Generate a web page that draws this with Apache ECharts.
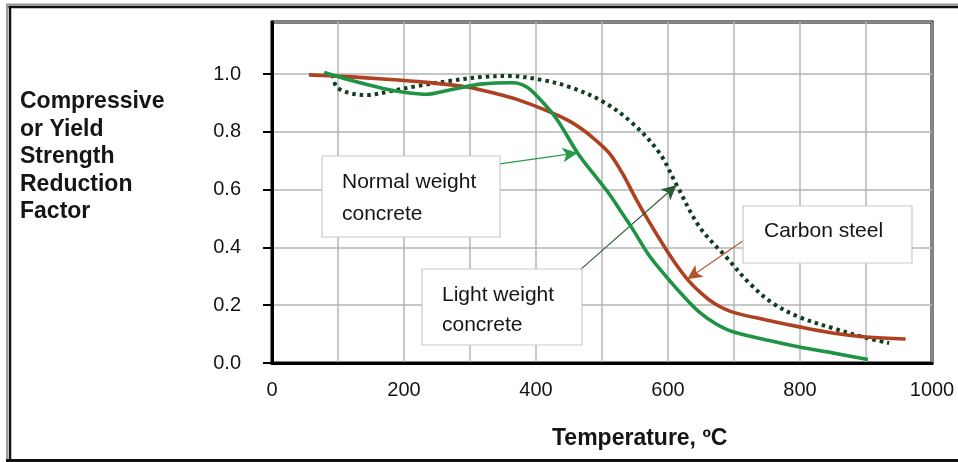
<!DOCTYPE html>
<html>
<head>
<meta charset="utf-8">
<script src="https://cdn.jsdelivr.net/npm/echarts@6/dist/echarts.min.js"></script>
<style>
  html, body { margin: 0; padding: 0; background: #fff; }
  #chart { width: 958px; height: 462px; }
</style>
</head>
<body>
<div id="chart"></div>
<script>
// Strength reduction factors versus temperature (°C)
const steelTemp   = [56, 120, 168, 230, 295, 340, 370, 420, 450, 471, 491, 511, 531, 551, 571, 591, 611, 631, 651, 671, 698, 749, 799, 849, 900, 960];
const steelFactor = [0.997, 0.99, 0.983, 0.972, 0.955, 0.932, 0.913, 0.87, 0.838, 0.807, 0.77, 0.726, 0.656, 0.57, 0.49, 0.415, 0.345, 0.285, 0.24, 0.205, 0.176, 0.149, 0.125, 0.104, 0.09, 0.083];

const normalTemp   = [79, 118, 168, 200, 234, 269, 319, 365, 386, 405, 431, 463, 487, 511, 530, 546, 572, 597, 622, 648, 673, 698, 749, 799, 849, 903];
const normalFactor = [1.005, 0.979, 0.95, 0.937, 0.93, 0.945, 0.966, 0.97, 0.955, 0.915, 0.845, 0.727, 0.655, 0.585, 0.52, 0.465, 0.37, 0.3, 0.235, 0.175, 0.135, 0.108, 0.08, 0.055, 0.035, 0.012];

const lightTemp   = [92, 98, 118, 143, 178, 219, 269, 319, 360, 410, 451, 501, 546, 587, 613, 648, 688, 723, 758, 799, 849, 900, 935];
const lightFactor = [0.997, 0.955, 0.934, 0.927, 0.94, 0.958, 0.976, 0.99, 0.993, 0.979, 0.955, 0.905, 0.83, 0.727, 0.616, 0.47, 0.367, 0.277, 0.208, 0.159, 0.121, 0.087, 0.069];

const xTicks = [0, 200, 400, 600, 800, 1000];
const yTicks = [0.0, 0.2, 0.4, 0.6, 0.8, 1.0];

// Callout arrows: [fromTemp, fromFactor, toTemp, toFactor]
const normalArrow = [345, 0.689, 463, 0.727];
const lightArrow  = [467, 0.322, 613, 0.616];
const steelArrow  = [731, 0.45, 629, 0.29];

const pairs = (xs, ys) => xs.map((x, i) => [x, ys[i]]);

const STEEL = '#ad4120';
const NORMAL = '#1e9343';
const LIGHT = '#123d22';
const TXT = '#151515';
const FONT = '"Liberation Sans", Arial, sans-serif';

function arrowLine(a, color, width) {
  return {
    silent: true,
    animation: false,
    symbol: ['none', 'arrow'],
    symbolSize: [11, 15],
    label: { show: false },
    lineStyle: { color: color, width: width, type: 'solid' },
    emphasis: { disabled: true },
    data: [[{ coord: [a[0], a[1]] }, { coord: [a[2], a[3]] }]]
  };
}

function calloutBox(x, y, w, h, text, tx, ty, lh) {
  return [
    { type: 'rect', z: 50, shape: { x: x, y: y, width: w, height: h },
      style: { fill: '#ffffff', stroke: '#c9c9c9', lineWidth: 1.2 } },
    { type: 'text', z: 51, x: tx, y: ty,
      style: { text: text, font: '21px ' + FONT, fill: TXT, lineHeight: lh, verticalAlign: 'top' } }
  ];
}

const chart = echarts.init(document.getElementById('chart'), null, { renderer: 'canvas' });

chart.setOption({
  animation: false,
  backgroundColor: '#fff',
  grid: {
    left: 272, right: 26, top: 22, bottom: 99,
    show: true, borderColor: '#000', borderWidth: 3, backgroundColor: '#fff'
  },
  xAxis: {
    type: 'value',
    min: 0, max: 1000, interval: 100,
    axisLine: { show: true, lineStyle: { color: '#000', width: 3 } },
    axisTick: { show: false },
    axisLabel: {
      interval: 1,
      margin: 17,
      color: TXT,
      fontSize: 20,
      fontFamily: FONT,
      formatter: v => (xTicks.indexOf(v) >= 0 ? String(v) : '')
    },
    splitLine: { show: true, lineStyle: { color: '#b4b4b4', width: 1.5 } }
  },
  yAxis: {
    type: 'value',
    min: 0, max: 1.18, interval: 0.2,
    axisLine: { show: true, lineStyle: { color: '#000', width: 3 } },
    axisTick: { show: true, inside: false, length: 9, lineStyle: { color: '#000', width: 2 } },
    axisLabel: {
      margin: 31,
      color: TXT,
      fontSize: 20,
      fontFamily: FONT,
      showMaxLabel: false,
      formatter: v => {
        const t = yTicks.find(k => Math.abs(k - v) < 1e-6);
        return t === undefined ? '' : t.toFixed(1);
      }
    },
    splitLine: { show: true, lineStyle: { color: '#b4b4b4', width: 1.5 } }
  },
  series: [
    {
      name: 'Light weight concrete',
      type: 'line',
      data: pairs(lightTemp, lightFactor),
      smooth: 0.35,
      showSymbol: false,
      z: 3,
      lineStyle: { color: LIGHT, width: 4, type: [3.5, 4], cap: 'butt' },
      markLine: arrowLine(lightArrow, '#2a5a36', 1.1)
    },
    {
      name: 'Carbon steel',
      type: 'line',
      data: pairs(steelTemp, steelFactor),
      smooth: 0.35,
      showSymbol: false,
      z: 4,
      lineStyle: { color: STEEL, width: 3.6 },
      markLine: arrowLine(steelArrow, '#b5532e', 1.1)
    },
    {
      name: 'Normal weight concrete',
      type: 'line',
      data: pairs(normalTemp, normalFactor),
      smooth: 0.35,
      showSymbol: false,
      z: 5,
      lineStyle: { color: NORMAL, width: 3.6 },
      markLine: arrowLine(normalArrow, '#2a9a4a', 1.3)
    }
  ],
  graphic: [
    // outer frame
    { type: 'line', shape: { x1: 6, y1: 4.5, x2: 958, y2: 4.5 }, style: { stroke: '#9a9a9a', lineWidth: 2 } },
    { type: 'line', shape: { x1: 8.5, y1: 7, x2: 958, y2: 7 }, style: { stroke: '#111', lineWidth: 2.5 } },
    { type: 'line', shape: { x1: 7, y1: 4, x2: 7, y2: 462 }, style: { stroke: '#9a9a9a', lineWidth: 2 } },
    { type: 'line', shape: { x1: 10, y1: 6, x2: 10, y2: 462 }, style: { stroke: '#111', lineWidth: 2.5 } },
    { type: 'line', shape: { x1: 6, y1: 460.5, x2: 958, y2: 460.5 }, style: { stroke: '#111', lineWidth: 3 } },
    // axis titles
    { type: 'text', left: 20, top: 88,
      style: { text: 'Compressive\nor Yield\nStrength\nReduction\nFactor',
               font: 'bold 23px ' + FONT, fill: TXT, lineHeight: 27.5 } },
    { type: 'text', x: 552, y: 427,
      style: { text: 'Temperature, ºC', font: 'bold 23px ' + FONT, fill: TXT, verticalAlign: 'top' } },
    // callout boxes
    ...calloutBox(322, 156, 178, 81, 'Normal weight\nconcrete', 342, 166, 32),
    ...calloutBox(422, 269, 160, 76, 'Light weight\nconcrete', 442, 280, 30),
    ...calloutBox(743, 206, 169, 57, 'Carbon steel', 764, 219, 24)
  ]
});
</script>
</body>
</html>
